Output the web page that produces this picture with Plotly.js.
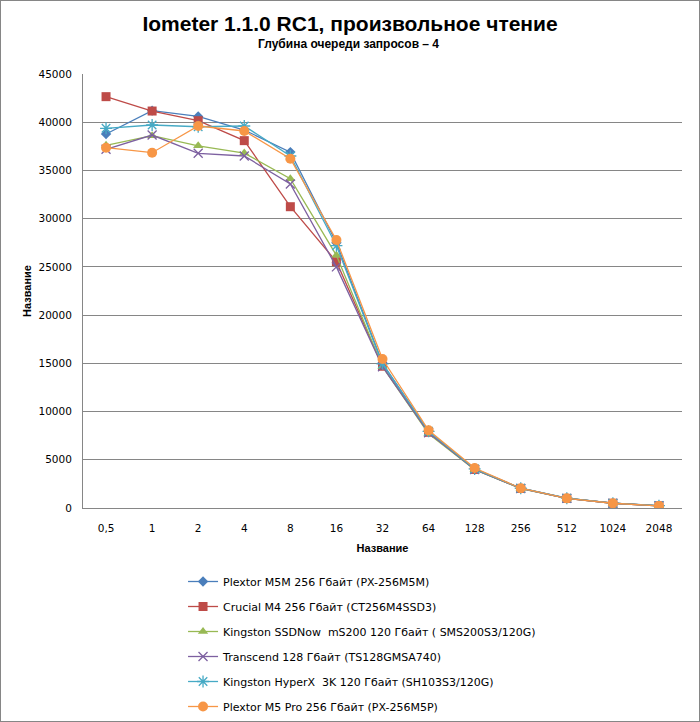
<!DOCTYPE html>
<html><head><meta charset="utf-8">
<script src="https://cdn.plot.ly/plotly-3.0.1.min.js"></script>
<style>body{margin:0;padding:0;background:#fff}#chart{width:700px;height:722px;box-sizing:border-box;border:1px solid #868686}</style>
</head><body><div id="chart"></div>
<script>
const categories = ["0,5","1","2","4","8","16","32","64","128","256","512","1024","2048"];
const names = [
  "Plextor M5M 256 Гбайт (PX-256M5M)",
  "Crucial M4 256 Гбайт (CT256M4SSD3)",
  "Kingston SSDNow  mS200 120 Гбайт ( SMS200S3/120G)",
  "Transcend 128 Гбайт (TS128GMSA740)",
  "Kingston HyperX  3K 120 Гбайт (SH103S3/120G)",
  "Plextor M5 Pro 256 Гбайт (PX-256M5P)"
];
const plextorM5M   = [38780, 41200, 40600, 39190, 36900, 27500, 15000, 7950, 4050, 2050, 1020, 500, 240];
const crucialM4    = [42650, 41160, 40160, 38090, 31240, 25540, 14700, 7850, 4000, 2030, 1000, 490, 230];
const kingstonMS200= [37600, 38600, 37550, 36800, 34150, 26200, 14650, 7700, 3980, 2020, 1000, 490, 230];
const transcend    = [37190, 38670, 36780, 36500, 33600, 25000, 14650, 7800, 4000, 2030, 1000, 490, 230];
const hyperX       = [39370, 39710, 39530, 39610, 36500, 27200, 14950, 7950, 4050, 2050, 1020, 500, 240];
const plextorM5Pro = [37360, 36840, 39610, 39090, 36220, 27790, 15450, 8050, 4150, 2050, 1000, 490, 220];
const series = [plextorM5M, crucialM4, kingstonMS200, transcend, hyperX, plextorM5Pro];
const colors = ["#4A7EBB","#BE4B48","#98B954","#7D60A0","#46AAC5","#F79646"];
const symbols = ["diamond","square","triangle-up","x-thin-open","asterisk-open","circle"];
const sizes = [8,9,9,9,10,10];

const traces = series.map((v,i)=>({
  type:"scatter", mode:"lines+markers", x:categories, y:v, name:names[i],
  legendgroup:"g"+i,
  line:{color:colors[i], width:1.3},
  marker:{symbol:symbols[i], size:sizes[i], color:colors[i], line:{color:colors[i], width:(i===3||i===4)?1.3:0}}
}));

const layout = {
  width:698, height:720,
  margin:{l:82, r:17, t:73, b:0, autoexpand:false},
  paper_bgcolor:"#fff", plot_bgcolor:"#fff",
  font:{family:"DejaVu Sans, sans-serif", size:10.5, color:"#000"},
  title:{text:"<b>Iometer 1.1.0 RC1, произвольное чтение</b>",
    font:{family:"Liberation Sans, Arial", size:21, color:"#000"},
    x:0.5, xref:"container", xanchor:"center", y:1-23/720, yref:"container", yanchor:"middle"},
  annotations:[{text:"<b>Глубина очереди запросов – 4</b>", xref:"paper", yref:"paper",
    x:0.444, y:(720-43)/647, xanchor:"center", yanchor:"middle", showarrow:false,
    font:{family:"Liberation Sans, Arial", size:12}}],
  xaxis:{type:"category", range:[-0.5, categories.length-0.5], autorange:false, showgrid:false, showline:true, linecolor:"#868686", linewidth:1,
    ticks:"", tickangle:0, ticklabelstandoff:10, automargin:false,
    tickfont:{size:10.5}, title:{text:"<b>Название</b>", font:{family:"Liberation Sans, Arial", size:11}, standoff:11}, fixedrange:true},
  yaxis:{domain:[213/647,1], range:[0,45000], dtick:5000, tickformat:"d", showgrid:true, gridcolor:"#868686", gridwidth:1,
    showline:true, linecolor:"#868686", ticks:"", ticklabelstandoff:8, zeroline:false, automargin:false,
    tickfont:{size:10.5}, title:{text:"<b>Название</b>", font:{family:"Liberation Sans, Arial", size:11}, standoff:4}},
  showlegend:true,
  legend:{orientation:"v", x:0.167, xanchor:"left", y:(720-566)/647, yanchor:"top", tracegroupgap:6,
    font:{family:"DejaVu Sans, Arial", size:11}, bgcolor:"rgba(0,0,0,0)"}
};
Plotly.newPlot("chart", traces, layout, {displayModeBar:false, staticPlot:true});
</script></body></html>
